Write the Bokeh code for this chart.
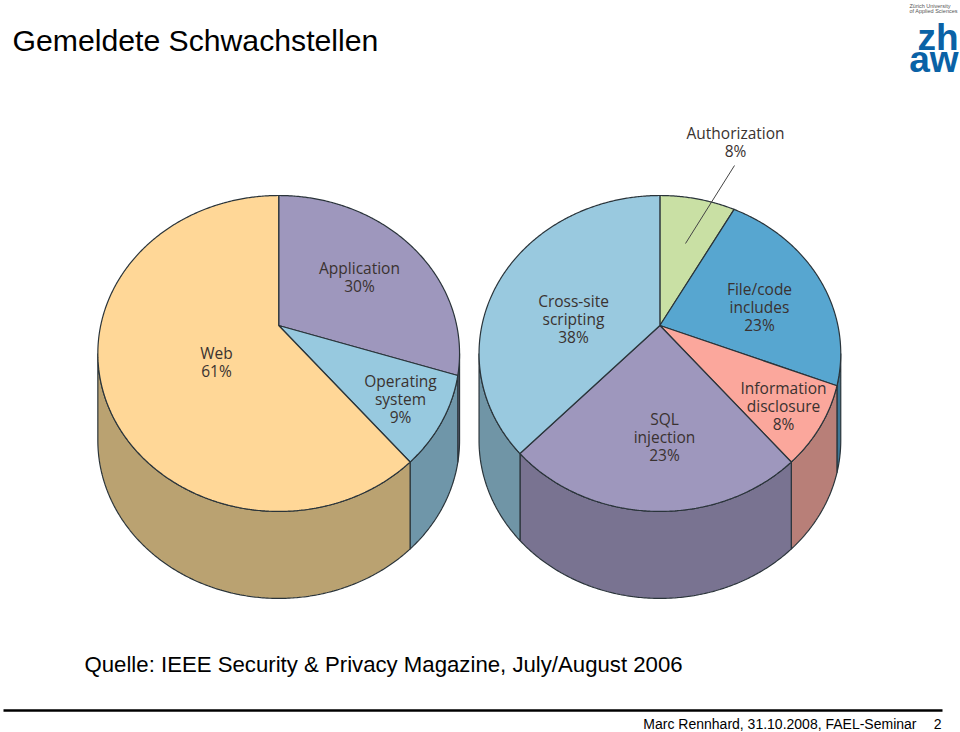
import numpy as np
from bokeh.plotting import figure
from bokeh.models import Range1d
from bokeh.core.properties import value
from bokeh.embed import file_html
from bokeh.resources import INLINE

title = "Gemeldete Schwachstellen"
source = "Quelle: IEEE Security & Privacy Magazine, July/August 2006"
footer = "Marc Rennhard, 31.10.2008, FAEL-Seminar"
page_no = "2"

left_names = ["Application", "Operating system", "Web"]
left_values = [30, 9, 61]
right_names = ["Authorization", "File/code includes", "Information disclosure", "SQL injection", "Cross-site scripting"]
right_values = [8, 23, 8, 23, 38]

left_top = ["#9E97BD", "#97C9DF", "#FFD797"]
left_wall = ["#797391", "#6F96A9", "#BAA271"]
right_top = ["#C9E0A4", "#57A6D0", "#FBA79C", "#9E97BD", "#99C9DF"]
right_wall = ["#93A678", "#3D7696", "#B87F78", "#797391", "#7095A6"]

# tilted-disc projection
K, RY, RX = 0.177, 153.0, 178.0
APEX_Y, DEPTH = 325.0, 87.0
EDGE = "#2A343A"
LEFT_X, RIGHT_X = 278.2, 659.4
SIL = np.degrees(np.arccos(-K))


def rim(cx, a0, a1):
    t = np.radians(np.linspace(a0, a1, max(int(abs(a1 - a0)) * 2, 2)))
    X, Y = np.sin(t), -np.cos(t)
    d = 1 - K * Y
    return cx + RX * X / d, APEX_Y + RY * Y / d


p = figure(width=960, height=732, output_backend="svg", toolbar_location=None,
           x_range=Range1d(0, 960), y_range=Range1d(732, 0), min_border=0)
p.axis.visible = False
p.grid.visible = False
p.outline_line_color = None


def pie(cx, values, tops, walls):
    edges = np.concatenate([[0], np.cumsum(values)]) * 3.6
    for a0, a1, c, w in zip(edges[:-1], edges[1:], tops, walls):
        lo, hi = max(a0, SIL), min(a1, 360 - SIL)
        if hi > lo:
            x, y = rim(cx, lo, hi)
            p.patch(np.r_[x, x[::-1]], np.r_[y, y[::-1] + DEPTH], fill_color=w,
                    line_color=EDGE, line_width=1.2)
    for a0, a1, c in zip(edges[:-1], edges[1:], tops):
        x, y = rim(cx, a0, a1)
        p.patch(np.r_[cx, x], np.r_[APEX_Y, y], fill_color=c, line_color=EDGE, line_width=1.2)


pie(LEFT_X, left_values, left_top, left_wall)
pie(RIGHT_X, right_values, right_top, right_wall)


def txt(x, y, s, size, color="#000000", font="Liberation Sans", align="left", style="normal"):
    p.text([x], [y], text=[s], text_font=value(font), text_font_size=f"{size}px",
           text_color=color, text_align=align, text_baseline="middle", text_font_style=style)


LAB = "#3A3230"
FONT = "Open Sans"


def label(name, val, x, y0, lines=None):
    parts = (lines or [name]) + [f"{val}%"]
    for i, s in enumerate(parts):
        txt(x, y0 + i * 18, s, 15.5, LAB, FONT, "center")


label(left_names[2], left_values[2], 216, 352)
label(left_names[0], left_values[0], 359, 267)
label(left_names[1], left_values[1], 400, 380, ["Operating", "system"])
label(right_names[0], right_values[0], 735, 132)
label(right_names[1], right_values[1], 759, 288, ["File/code", "includes"])
label(right_names[2], right_values[2], 783, 387, ["Information", "disclosure"])
label(right_names[3], right_values[3], 664, 418, ["SQL", "injection"])
label(right_names[4], right_values[4], 573, 300, ["Cross-site", "scripting"])

p.line([734, 685], [165, 243], line_color="#444444", line_width=1)

txt(12, 40, title, 30.2)
txt(84, 664, source, 22.2)
txt(916, 723, footer, 14, align="right")
txt(941, 723, page_no, 14, align="right")
p.line([3, 942], [710, 710], line_color="#000000", line_width=2.5)

BLUE = "#0A62A6"
txt(909, 5.5, "Zürich University", 5.5, "#555555")
txt(909, 10.5, "of Applied Sciences", 5.5, "#555555")
txt(958, 37, "zh", 37, BLUE, "Liberation Sans", "right", "bold")
txt(958, 59, "aw", 37, BLUE, "Liberation Sans", "right", "bold")

open("out.html", "w").write(file_html(p, INLINE))
